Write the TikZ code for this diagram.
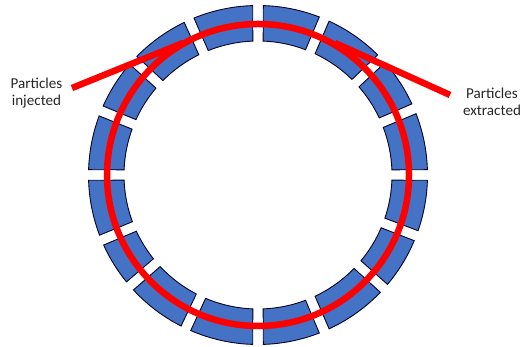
\documentclass[tikz,border=0pt]{standalone}
\usepackage{fontspec}
\setmainfont{Carlito}
\definecolor{ringblue}{HTML}{4472C4}
\definecolor{beamred}{RGB}{255,0,0}
\usetikzlibrary{positioning}

\begin{document}
\begin{tikzpicture}[every node/.style={font=\fontsize{8.6}{9.8}\selectfont},
    magnet/.style={draw=black!85!blue,fill=ringblue,line width=0.5pt,line join=miter},
    beam/.style={draw=beamred,line width=0.13cm},
    caption/.style={align=center,text=black!85}]
  \useasboundingbox (0,0) rectangle (10.6,6.94);
  \coordinate (centre) at (5.16,3.44);
  % bending magnets
  \begin{scope}[shift={(centre)}]
    \foreach \a/\b in {0/23,23/43.3,43.3/67,67/90,90/114,114/137.4,137.4/157.8,157.8/180,
                       180/202.6,202.6/220.9,220.9/244.8,244.8/270,270/293,293/318,318/339,339/360}
      \draw[magnet] ({\a+1.8}:3.39) arc[start angle=\a+1.8,end angle=\b-1.8,radius=3.39]
        -- ({\b-2.2}:2.68) arc[start angle=\b-2.2,end angle=\a+2.2,radius=2.68] -- cycle;
  \end{scope}
  % beam
  \node[beam,circle,minimum size=6.04cm,inner sep=0pt] (orbit) at (centre) {};
  \coordinate (injstart) at (1.44,5.18);
  \coordinate (injend) at (3.66,6.08);
  \coordinate (extstart) at (9.00,5.04);
  \coordinate (extend) at (6.70,6.08);
  \draw[beam] (injstart) -- (injend);
  \draw[beam] (extstart) -- (extend);
  \node[caption] (injected) at (0.73,5.08) {Particles\\injected};
  \node[caption] (extracted) at (9.84,4.90) {Particles\\extracted};
\end{tikzpicture}
\end{document}
